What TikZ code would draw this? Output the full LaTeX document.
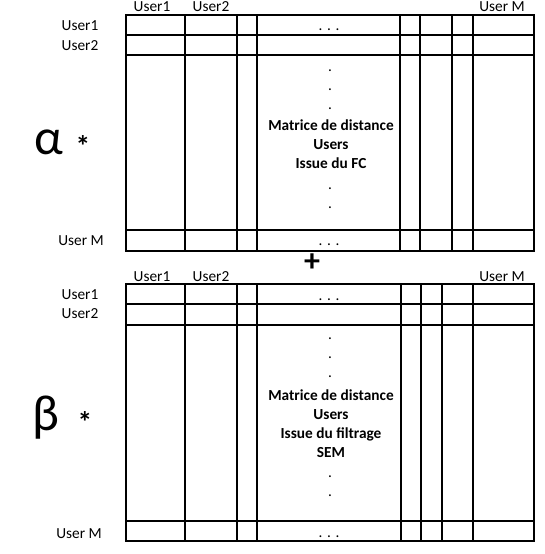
\documentclass[tikz,border=0pt]{standalone}
\usepackage{fontspec}
\setmainfont{Carlito}
\begin{document}
\begin{tikzpicture}[x=0.75pt,y=-0.75pt,
  gridline/.style={line width=0.8pt},
  lbl/.style={font=\fontsize{11.5}{13}\selectfont, inner sep=0pt},
  mid/.style={font=\bfseries\fontsize{11.5}{13}\selectfont, inner sep=0pt, anchor=base},
  dotl/.style={font=\fontsize{11.5}{13}\selectfont, inner sep=0pt, anchor=base},
  greek/.style={font=\fontsize{38}{42}\selectfont, inner sep=0pt},
  star/.style={font=\bfseries\fontsize{22}{24}\selectfont, inner sep=0pt}]
\useasboundingbox (0,0) rectangle (544,554);
% ---------- top table ----------
\draw[gridline] (126,15) rectangle (534,251);
\foreach \y in {35,55,230} \draw[gridline] (126,\y) -- (534,\y);
\foreach \x in {185,237,257,400,420,452,473} \draw[gridline] (\x,15) -- (\x,251);
\node[lbl] (tc1) at (152,7) {User1};
\node[lbl] (tc2) at (211,7) {User2};
\node[lbl] (tcm) at (502,7) {User M};
\node[lbl] (tr1) at (80,25.5) {User1};
\node[lbl] (tr2) at (80,45.5) {User2};
\node[lbl] (trm) at (81,241) {User M};
\node[dotl] (tdots1) at (329,30) {.\hspace{3.5pt}.\hspace{3.5pt}.};
\node[dotl] (tdots2) at (329,245.5) {.\hspace{3.5pt}.\hspace{3.5pt}.};
\node[dotl] (td1) at (330,71) {.};
\node[dotl] (td2) at (330,90) {.};
\node[dotl] (td3) at (330,109) {.};
\node[mid] (tt1) at (331,130.7) {Matrice de distance};
\node[mid] (tt2) at (331,149.3) {Users};
\node[mid] (tt3) at (331,168.3) {Issue du FC};
\node[dotl] (td4) at (330,189) {.};
\node[dotl] (td5) at (330,208) {.};
\node[greek] (alpha) at (48.5,142) {α};
\node[star] (astar) at (83,146) {*};
% ---------- plus ----------
\node[font=\bfseries\fontsize{24}{26}\selectfont, inner sep=0pt] (plus) at (312,263) {+};
% ---------- bottom table ----------
\draw[gridline] (126,284) rectangle (534,541);
\foreach \y in {304,325,521} \draw[gridline] (126,\y) -- (534,\y);
\foreach \x in {185,237,257,401,421,442,473} \draw[gridline] (\x,284) -- (\x,541);
\node[lbl] (bc1) at (152,277) {User1};
\node[lbl] (bc2) at (211,277) {User2};
\node[lbl] (bcm) at (502,277) {User M};
\node[lbl] (br1) at (80,294.5) {User1};
\node[lbl] (br2) at (80,314) {User2};
\node[lbl] (brm) at (79,534) {User M};
\node[dotl] (bdots1) at (329,300.5) {.\hspace{3.5pt}.\hspace{3.5pt}.};
\node[dotl] (bdots2) at (329,537) {.\hspace{3.5pt}.\hspace{3.5pt}.};
\node[dotl] (bd1) at (330,339) {.};
\node[dotl] (bd2) at (330,358) {.};
\node[dotl] (bd3) at (330,377) {.};
\node[mid] (bt1) at (331,400) {Matrice de distance};
\node[mid] (bt2) at (331,419.3) {Users};
\node[mid] (bt3) at (331,438.3) {Issue du filtrage};
\node[mid] (bt4) at (331,457.3) {SEM};
\node[dotl] (bd4) at (330,477) {.};
\node[dotl] (bd5) at (330,496) {.};
\node[greek] (beta) at (46,418) {β};
\node[star] (bstar) at (85,422) {*};
\end{tikzpicture}
\end{document}
